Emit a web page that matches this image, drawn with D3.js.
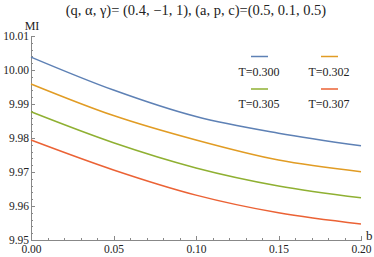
<!DOCTYPE html>
<html lang="en">
<head>
<meta charset="utf-8">
<title>MI vs b</title>
<script src="https://d3js.org/d3.v7.min.js"></script>
<style>
    body { margin: 0; background: #fff; }
    .axis path, .axis line { stroke: #888; shape-rendering: crispEdges; }
</style>
</head>
<body>
<div id="chart"></div>
<script>
var bValues = [0, 0.05, 0.10, 0.15, 0.20];
var temps = ["T=0.300", "T=0.302", "T=0.305", "T=0.307"];
var miT300 = [10.0038, 9.9941, 9.9863, 9.9814, 9.9777];
var miT302 = [9.9959, 9.9866, 9.9794, 9.9735, 9.9701];
var miT305 = [9.9877, 9.9786, 9.9712, 9.9659, 9.9624];
var miT307 = [9.9794, 9.9706, 9.9632, 9.9580, 9.9547];
var xTicks = [0, 0.05, 0.10, 0.15, 0.20];
var yTicks = [9.95, 9.96, 9.97, 9.98, 9.99, 10.00, 10.01];
var colors = ["#5E81B5", "#E19C24", "#8FB032", "#EB6235"];

var series = [miT300, miT302, miT305, miT307];
var serif = "'Liberation Serif', 'Times New Roman', 'DejaVu Serif', serif";

var width = 374, height = 257;
var margin = { top: 36, right: 13, bottom: 17, left: 31 };

var x = d3.scaleLinear().domain([0, 0.2]).range([margin.left, width - margin.right]);
var y = d3.scaleLinear().domain([9.95, 10.01]).range([height - margin.bottom, margin.top]);

var svg = d3.select("#chart").append("svg")
    .attr("width", width)
    .attr("height", height);

// minor ticks first, so the major ticks sit on top
var xMinor = d3.range(0, 0.2001, 0.01);
var yMinor = d3.range(9.95, 10.0101, 0.002);

svg.append("g")
    .attr("class", "axis")
    .attr("transform", "translate(0," + y(9.95) + ")")
    .call(d3.axisBottom(x).tickValues(xMinor).tickSize(-2).tickFormat(""))
    .call(function(g) { g.select(".domain").remove(); });

svg.append("g")
    .attr("class", "axis")
    .attr("transform", "translate(" + x(0) + ",0)")
    .call(d3.axisLeft(y).tickValues(yMinor).tickSize(-2).tickFormat(""))
    .call(function(g) { g.select(".domain").remove(); });

var xAxis = svg.append("g")
    .attr("class", "axis")
    .attr("transform", "translate(0," + y(9.95) + ")")
    .call(d3.axisBottom(x).tickValues(xTicks).tickSizeInner(-4).tickSizeOuter(0)
        .tickPadding(5).tickFormat(d3.format(".2f")));

var yAxis = svg.append("g")
    .attr("class", "axis")
    .attr("transform", "translate(" + x(0) + ",0)")
    .call(d3.axisLeft(y).tickValues(yTicks).tickSizeInner(-4).tickSizeOuter(0)
        .tickPadding(2).tickFormat(d3.format(".2f")));

svg.selectAll(".axis").attr("font-family", serif).attr("font-size", 11.5);
svg.selectAll(".axis text").attr("fill", "#222");

var line = d3.line()
    .x(function(d, i) { return x(bValues[i]); })
    .y(function(d) { return y(d); })
    .curve(d3.curveMonotoneX);

svg.selectAll(".curve")
    .data(series)
    .enter().append("path")
    .attr("class", "curve")
    .attr("fill", "none")
    .attr("stroke", function(d, i) { return colors[i]; })
    .attr("stroke-width", 1.5)
    .attr("d", line);

// labels
svg.append("text")
    .attr("x", 196)
    .attr("y", 14.5)
    .attr("text-anchor", "middle")
    .attr("font-family", serif)
    .attr("font-size", 14.5)
    .attr("fill", "#222")
    .text("(q, \u03b1, \u03b3)= (0.4, \u22121, 1), (a, p, c)=(0.5, 0.1, 0.5)");

svg.append("text")
    .attr("x", 32)
    .attr("y", 30)
    .attr("text-anchor", "middle")
    .attr("font-family", serif)
    .attr("font-size", 12)
    .attr("fill", "#222")
    .text("MI");

svg.append("text")
    .attr("x", 366)
    .attr("y", 240)
    .attr("font-family", serif)
    .attr("font-size", 13)
    .attr("fill", "#222")
    .text("b");

// legend, two columns
var legend = svg.selectAll(".legend")
    .data(temps)
    .enter().append("g")
    .attr("class", "legend")
    .attr("transform", function(d, i) {
        return "translate(" + (259 + (i % 2) * 70) + "," + (56.5 + Math.floor(i / 2) * 32.5) + ")";
    });

legend.append("line")
    .attr("x1", -8).attr("x2", 9)
    .attr("stroke", function(d, i) { return colors[i]; })
    .attr("stroke-width", 1.5);

legend.append("text")
    .attr("y", 19)
    .attr("text-anchor", "middle")
    .attr("font-family", serif)
    .attr("font-size", 12)
    .attr("fill", "#222")
    .text(function(d) { return d; });
</script>
</body>
</html>
